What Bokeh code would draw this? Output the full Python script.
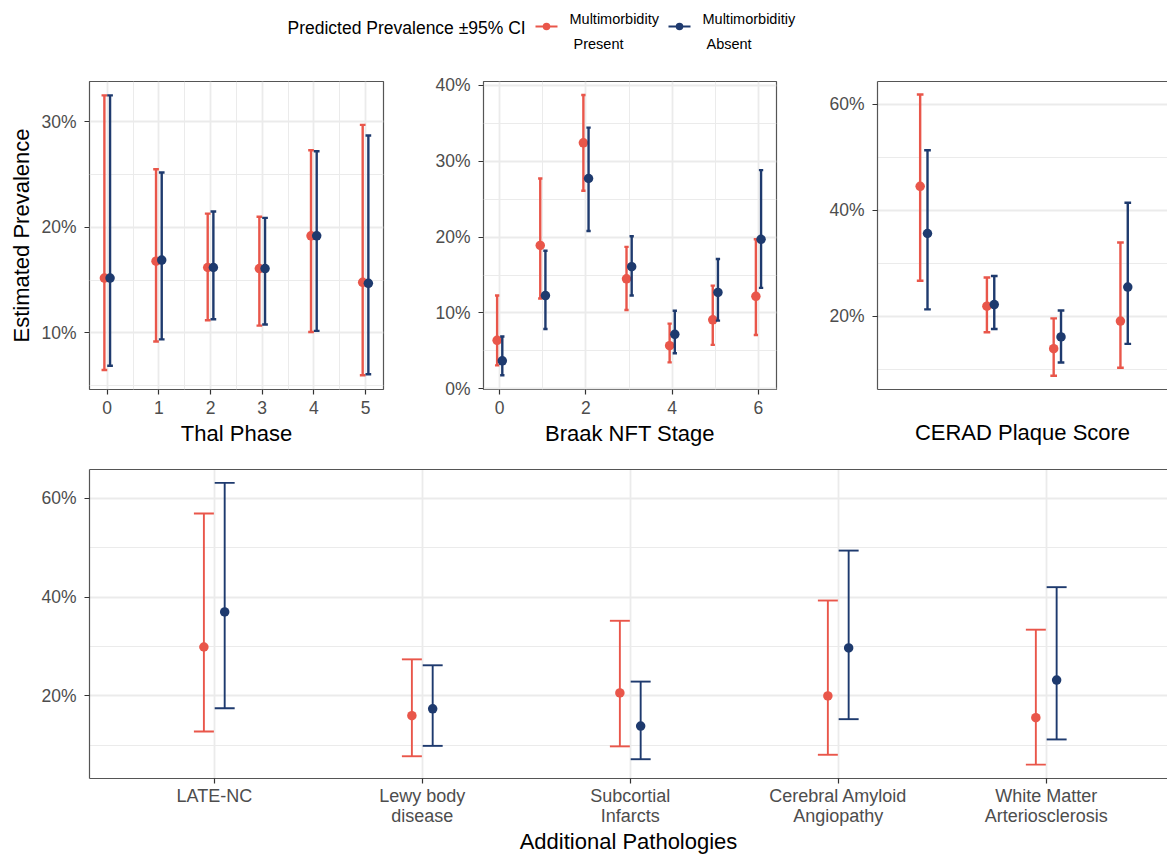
from bokeh.plotting import figure
from bokeh.layouts import column, row
from bokeh.models import Range1d, FixedTicker, PrintfTickFormatter, LinearAxis
from bokeh.embed import file_html
from bokeh.resources import INLINE
from bokeh.core.properties import value

RED = "#E9564A"
BLUE = "#1E3A6E"
FONT = "Liberation Sans"
BORDER = "#555555"
GRID = "#EBEBEB"

# ---------------- data (percent) ----------------
thal_x = [0, 1, 2, 3, 4, 5]
thal_pres = [15.2, 16.8, 16.2, 16.1, 19.2, 14.8]
thal_pres_lo = [6.5, 9.2, 11.2, 10.7, 10.1, 6.0]
thal_pres_hi = [32.5, 25.5, 21.3, 21.0, 27.3, 29.7]
thal_abs = [15.2, 16.9, 16.2, 16.1, 19.2, 14.7]
thal_abs_lo = [6.9, 9.4, 11.3, 10.8, 10.2, 6.1]
thal_abs_hi = [32.5, 25.2, 21.5, 20.9, 27.2, 28.7]

braak_x = [0, 1, 2, 3, 4, 5, 6]
braak_pres = [6.4, 18.9, 32.4, 14.5, 5.7, 9.1, 12.2]
braak_pres_lo = [3.1, 11.9, 26.1, 10.4, 3.5, 5.8, 7.1]
braak_pres_hi = [12.3, 27.7, 38.7, 18.7, 8.6, 13.6, 19.7]
braak_abs = [3.7, 12.3, 27.7, 16.1, 7.2, 12.7, 19.7]
braak_abs_lo = [1.8, 7.9, 20.8, 12.3, 4.7, 9.0, 13.3]
braak_abs_hi = [6.9, 18.2, 34.4, 20.1, 10.3, 17.1, 28.8]

cerad_x = [1, 2, 3, 4]
cerad_pres = [44.5, 21.9, 13.9, 19.1]
cerad_pres_lo = [26.7, 17.0, 8.8, 10.3]
cerad_pres_hi = [61.8, 27.3, 19.6, 33.9]
cerad_abs = [35.6, 22.2, 16.1, 25.5]
cerad_abs_lo = [21.3, 17.6, 11.3, 14.8]
cerad_abs_hi = [51.3, 27.6, 21.1, 41.4]

path_labels = ["LATE-NC", "Lewy body\ndisease", "Subcortial\nInfarcts",
               "Cerebral Amyloid\nAngiopathy", "White Matter\nArteriosclerosis"]
path_x = [1, 2, 3, 4, 5]
path_pres = [29.9, 16.0, 20.6, 20.0, 15.6]
path_pres_lo = [12.8, 7.8, 9.8, 8.1, 6.1]
path_pres_hi = [56.9, 27.4, 35.2, 39.3, 33.4]
path_abs = [37.0, 17.4, 13.9, 29.7, 23.2]
path_abs_lo = [17.5, 9.9, 7.2, 15.3, 11.2]
path_abs_hi = [63.1, 26.2, 22.9, 49.4, 42.0]

legend_title = "Predicted Prevalence \u00b195% CI"
legend_labels = [("Multimorbidity", "Present"), ("Multimorbiditiy", "Absent")]


def series(p, xs, off, mid, lo, hi, color, half, lw, size):
    x = [v + off for v in xs]
    p.segment(x0=x, y0=lo, x1=x, y1=hi, line_color=color, line_width=lw)
    p.segment(x0=[v - half for v in x], y0=hi, x1=[v + half for v in x], y1=hi,
              line_color=color, line_width=lw)
    p.segment(x0=[v - half for v in x], y0=lo, x1=[v + half for v in x], y1=lo,
              line_color=color, line_width=lw)
    p.scatter(x, mid, size=size, color=color, line_color=None)


def make_fig(w, h, xr, yr, bl, br, bt, bb):
    p = figure(width=w, height=h, x_range=Range1d(*xr), y_range=Range1d(*yr),
               toolbar_location=None, output_backend="svg",
               min_border_left=bl, min_border_right=br,
               min_border_top=bt, min_border_bottom=bb)
    p.outline_line_color = BORDER
    p.outline_line_width = 1.2
    p.background_fill_color = "white"
    p.border_fill_color = "white"
    xa, ya = p.below[0], p.left[0]
    for ax in (xa, ya):
        ax.axis_line_color = None
        ax.major_tick_line_color = "#333333"
        ax.major_tick_line_width = 1.2
        ax.major_tick_in = 0
        ax.major_tick_out = 5
        ax.minor_tick_line_color = None
        ax.major_label_text_font = FONT
        ax.major_label_text_font_size = "17.5px"
        ax.major_label_text_color = "#4D4D4D"
        ax.axis_label_text_font = FONT
        ax.axis_label_text_font_size = "22px"
        ax.axis_label_text_font_style = "normal"
        ax.axis_label_text_color = "black"
    ya.major_label_standoff = 8
    xa.major_label_standoff = 6
    xa.axis_label_standoff = 4
    ya.formatter = PrintfTickFormatter(format="%d%%")
    p.xgrid.grid_line_color = GRID
    p.xgrid.grid_line_width = 1.8
    p.ygrid.grid_line_color = GRID
    p.ygrid.grid_line_width = 1.8
    p.xgrid.minor_grid_line_color = GRID
    p.xgrid.minor_grid_line_width = 1
    p.ygrid.minor_grid_line_color = GRID
    p.ygrid.minor_grid_line_width = 1
    return p, xa, ya


def set_ticks(p, xa, ya, xt, xm, yt, ym):
    tx = FixedTicker(ticks=xt, minor_ticks=xm)
    xa.ticker = tx
    p.xgrid.ticker = tx
    ty = FixedTicker(ticks=yt, minor_ticks=ym)
    ya.ticker = ty
    p.ygrid.ticker = ty


def open_right(p, xa, ya):
    # panel is cut by the right edge of the picture: no right border
    p.outline_line_color = None
    for ax in (xa, ya):
        ax.axis_line_color = BORDER
        ax.axis_line_width = 1.2
    top = LinearAxis(ticker=FixedTicker(ticks=[]), axis_line_color=BORDER,
                     axis_line_width=1.2, major_tick_line_color=None,
                     minor_tick_line_color=None, major_label_text_font_size="0px",
                     major_tick_out=0, major_tick_in=0, major_label_standoff=0,
                     axis_label_standoff=0)
    p.add_layout(top, "above")


# ---------------- legend strip ----------------
# frame spans page x 89..1167 (aligned with the panels below)
leg = figure(width=1167, height=55, x_range=Range1d(89, 1167), y_range=Range1d(55, 0),
             toolbar_location=None, output_backend="svg", x_axis_type=None,
             y_axis_type=None, min_border_left=89, min_border_right=0,
             min_border_top=0, min_border_bottom=0)
leg.grid.visible = False
leg.outline_line_color = None
leg.text(x=[287], y=[27], text=[legend_title], text_font=value(FONT),
         text_font_size="17.5px", text_baseline="middle", text_align="left",
         text_color="black")
for (l1, l2), color, x0 in zip(legend_labels, [RED, BLUE], [535, 668]):
    leg.segment(x0=[x0], y0=[26], x1=[x0 + 22], y1=[26], line_color=color, line_width=2.2)
    leg.scatter([x0 + 11], [26], size=7.5, color=color, line_color=None)
    leg.text(x=[x0 + 34], y=[18], text=[l1], text_font=value(FONT),
             text_font_size="14.5px", text_baseline="middle", text_color="black")
    leg.text(x=[x0 + 38], y=[43], text=[l2], text_font=value(FONT),
             text_font_size="14.5px", text_baseline="middle", text_color="black")

# ---------------- Thal ----------------
p1, x1, y1 = make_fig(432, 400, (-0.343, 5.348), (4.65, 33.81), 89, 49, 26, 66)
set_ticks(p1, x1, y1, thal_x, [0.5, 1.5, 2.5, 3.5, 4.5], [10, 20, 30], [5, 15, 25])
series(p1, thal_x, -0.055, thal_pres, thal_pres_lo, thal_pres_hi, RED, 0.055, 2.4, 9.5)
series(p1, thal_x, 0.055, thal_abs, thal_abs_lo, thal_abs_hi, BLUE, 0.055, 2.4, 9.5)
x1.axis_label = "Thal Phase"
y1.axis_label = "Estimated Prevalence"
y1.axis_label_standoff = 4

# ---------------- Braak ----------------
p2, x2, y2 = make_fig(394, 400, (-0.376, 6.418), (-0.07, 40.47), 50, 50, 26, 66)
set_ticks(p2, x2, y2, [0, 2, 4, 6], [1, 3, 5], [0, 10, 20, 30, 40], [5, 15, 25, 35])
series(p2, braak_x, -0.06, braak_pres, braak_pres_lo, braak_pres_hi, RED, 0.05, 2.4, 9.5)
series(p2, braak_x, 0.06, braak_abs, braak_abs_lo, braak_abs_hi, BLUE, 0.05, 2.4, 9.5)
x2.axis_label = "Braak NFT Stage"

# ---------------- CERAD ----------------
p3, x3, y3 = make_fig(341, 400, (0.306, 4.65), (6.2, 64.25), 50, 0, 26, 66)
set_ticks(p3, x3, y3, [], [], [20, 40, 60], [10, 30, 50])
p3.xgrid.visible = False
open_right(p3, x3, y3)
series(p3, cerad_x, -0.055, cerad_pres, cerad_pres_lo, cerad_pres_hi, RED, 0.05, 2.4, 9.5)
series(p3, cerad_x, 0.055, cerad_abs, cerad_abs_lo, cerad_abs_hi, BLUE, 0.05, 2.4, 9.5)
x3.axis_label = "CERAD Plaque Score"
x3.axis_label_standoff = 30

# ---------------- Additional pathologies ----------------
p4, x4, y4 = make_fig(1167, 402, (0.4, 5.583), (3.3, 65.8), 89, 0, 14, 79)
set_ticks(p4, x4, y4, path_x, [], [20, 40, 60], [10, 30, 50])
open_right(p4, x4, y4)
x4.major_label_overrides = {x: lab for x, lab in zip(path_x, path_labels)}
x4.major_label_text_font_size = "18px"
x4.major_label_text_line_height = 1.0
x4.major_label_standoff = 2
x4.axis_label = "Additional Pathologies"
x4.axis_label_standoff = 0
series(p4, path_x, -0.05, path_pres, path_pres_lo, path_pres_hi, RED, 0.048, 1.9, 9.5)
series(p4, path_x, 0.05, path_abs, path_abs_lo, path_abs_hi, BLUE, 0.048, 1.9, 9.5)

layout = column(leg, row(p1, p2, p3), p4)
open("out.html", "w").write(file_html(layout, INLINE))
